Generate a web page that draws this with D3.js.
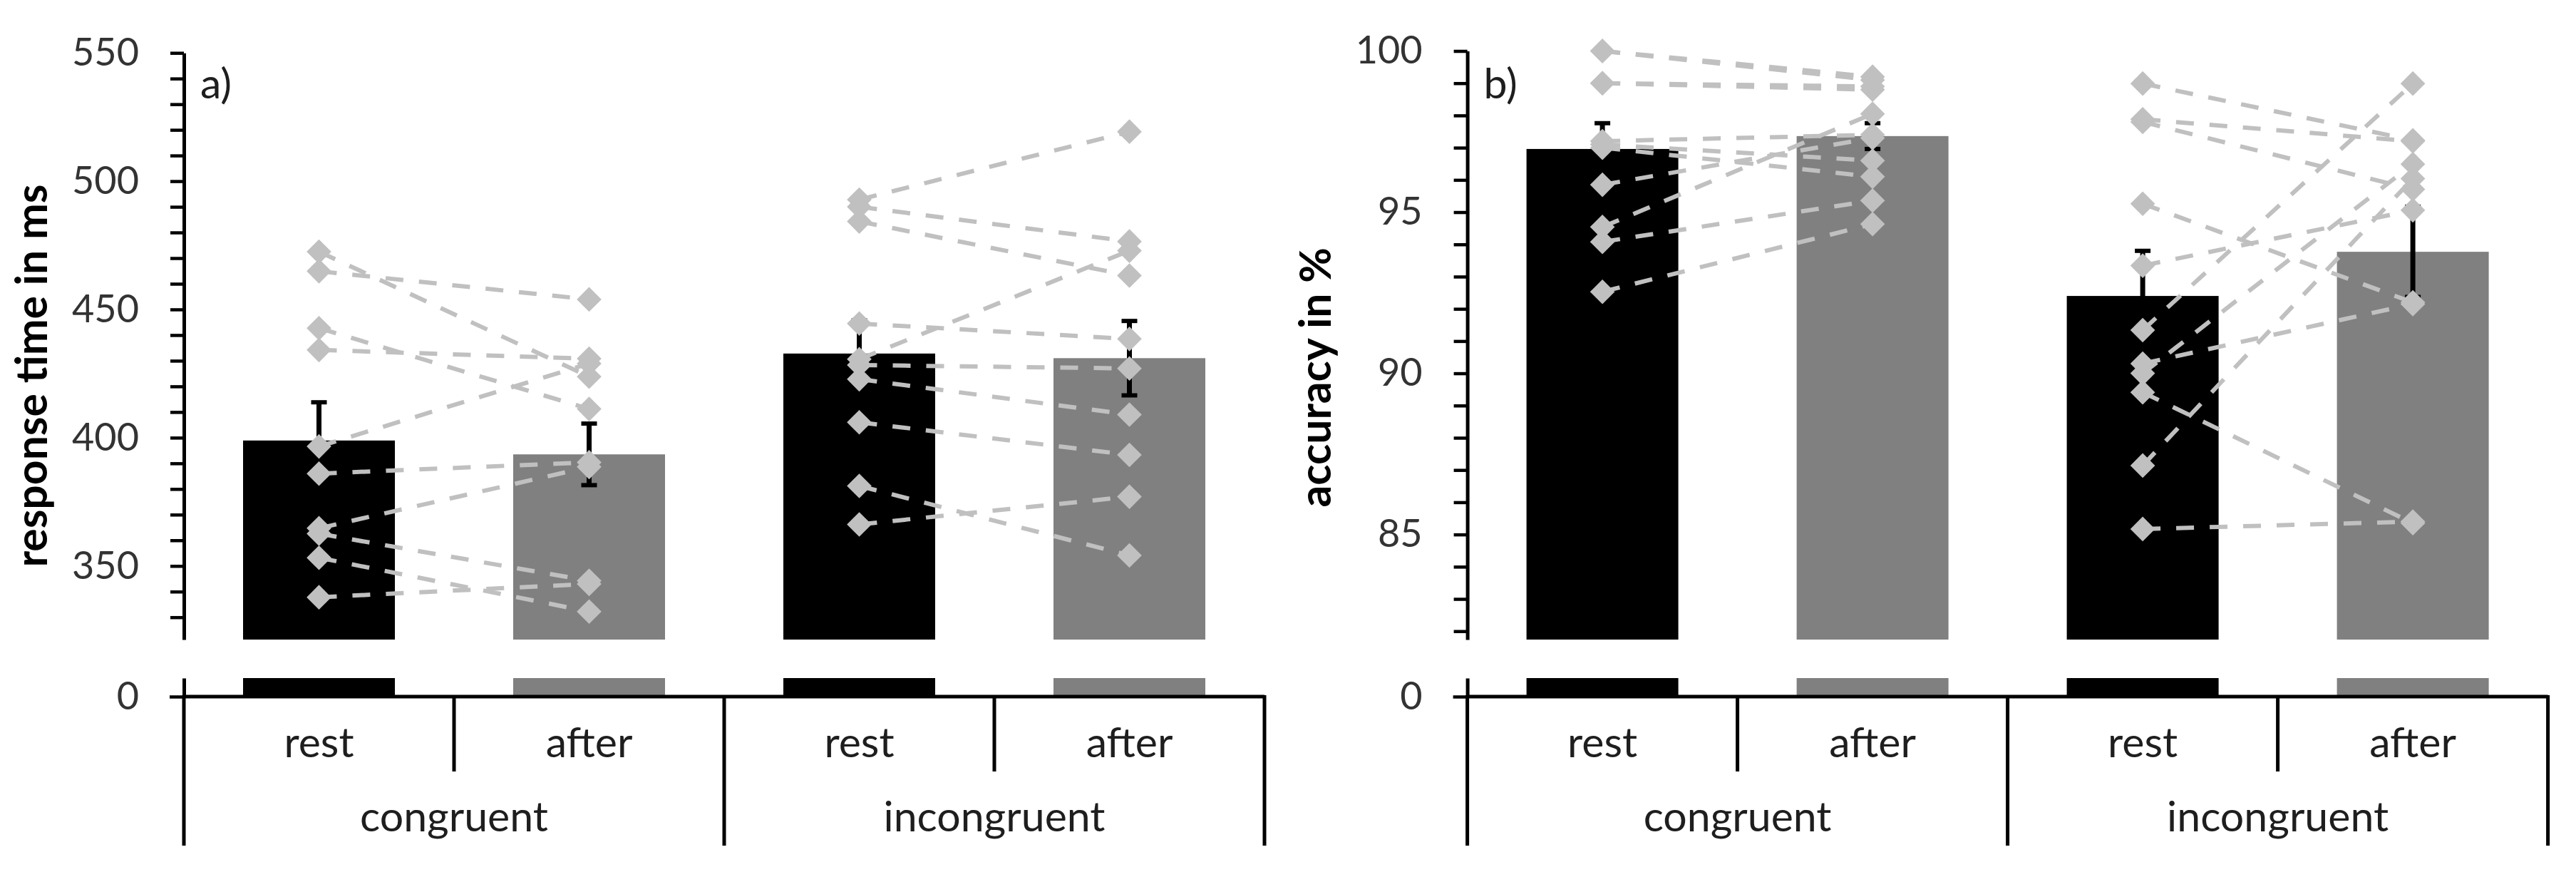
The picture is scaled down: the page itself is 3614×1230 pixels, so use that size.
<!DOCTYPE html>
<html lang="en">
<head>
<meta charset="utf-8">
<title>Response time and accuracy: rest vs after</title>
<style>
  body { margin:0; background:#fff; }
  svg  { display:block; }
  text { font-family: Lato, "Open Sans", sans-serif; }
</style>
</head>
<body>
<script src="https://d3js.org/d3.v7.min.js"></script>
<script>

// ---- data ----
const groups = ["congruent", "incongruent"];
const conditions = ["rest", "after"];

// a) response time (ms): bar means + error, order: cong rest, cong after, incong rest, incong after
const rtMean  = [398.9, 393.5, 432.8, 431.0];
const rtError = [14.9, 12.0, 12.9, 14.5];
// single participants (rest[i] is joined to after[i])
const rtCongruentRest    = [472.5, 464.9, 442.7, 434.2, 396.6, 386.0, 364.7, 362.6, 353.2, 337.8];
const rtCongruentAfter   = [423.8, 453.9, 411.2, 430.8, 428.9, 390.4, 388.6, 344.2, 332.2, 343.0];
const rtIncongruentRest  = [492.8, 490.0, 484.3, 444.5, 430.6, 428.3, 422.8, 406.0, 381.2, 366.2];
const rtIncongruentAfter = [519.3, 476.5, 463.2, 438.5, 472.9, 427.0, 409.0, 393.3, 354.1, 377.0];

// b) accuracy (%)
const accMean  = [96.96, 97.36, 92.40, 93.77];
const accError = [0.8, 0.4, 1.4, 1.4];
const accCongruentRest    = [100, 100, 99.0, 99.0, 97.2, 97.1, 97.0, 95.85, 94.54, 94.08, 92.53];
const accCongruentAfter   = [99.2, 99.1, 98.9, 98.8, 97.4, 96.6, 96.1, 97.3, 98.05, 95.36, 94.63];
const accIncongruentRest  = [98.99, 97.88, 97.8, 95.26, 93.34, 91.34, 90.3, 90.0, 89.41, 87.14, 85.17];
const accIncongruentAfter = [97.23, 97.2, 95.71, 92.2, 95.06, 98.99, 92.15, 96.49, 85.35, 96.04, 85.4];

// axis ticks
const rtTicks   = d3.range(330, 551, 10);
const rtLabels  = [350, 400, 450, 500, 550];
const accTicks  = d3.range(82, 101, 1);
const accLabels = [85, 90, 95, 100];

// ---- layout ----
const width = 3614, height = 1230;
const plotBottom = 897;   // lower end of the broken upper axis
const stubTop = 951;      // top of the short lower axis part
const zeroY = 977;        // category axis
const step = 379;
const barColor = ["#000000", "#808080"];
const pointColor = "#c0c0c0";

const svg = d3.select("body").append("svg")
  .attr("width", width)
  .attr("height", height)
  .attr("viewBox", [0, 0, width, height]);

svg.append("rect").attr("width", width).attr("height", height).attr("fill", "#fff");

const keys = [];
groups.forEach(g => conditions.forEach(c => keys.push(g + "|" + c)));

function drawPanel(p) {
  const g = svg.append("g");

  const x = d3.scaleBand()
    .domain(keys)
    .range([p.axisX, p.axisX + step * keys.length])
    .paddingInner(0.438)
    .paddingOuter(0.219);
  const cx = k => x(k) + x.bandwidth() / 2;

  const y = d3.scaleLinear().domain(p.domain).range([plotBottom, p.topY]).clamp(true);
  const yLow = d3.scaleLinear().domain([0, 1]).range([zeroY, stubTop]).clamp(true);

  // bars (upper part and the stub under the break)
  g.append("g").selectAll("rect")
    .data(p.means)
    .join("rect")
      .attr("x", (d, i) => x(keys[i]))
      .attr("width", x.bandwidth())
      .attr("y", d => y(d))
      .attr("height", d => y(p.domain[0]) - y(d))
      .attr("fill", (d, i) => barColor[i % 2]);

  g.append("g").selectAll("rect")
    .data(p.means)
    .join("rect")
      .attr("x", (d, i) => x(keys[i]))
      .attr("width", x.bandwidth())
      .attr("y", d => yLow(d))
      .attr("height", d => yLow(0) - yLow(d))
      .attr("fill", (d, i) => barColor[i % 2]);

  // error bars
  const eb = g.append("g").attr("stroke", "#000");
  p.means.forEach((m, i) => {
    const xc = cx(keys[i]);
    eb.append("line").attr("x1", xc).attr("x2", xc).attr("stroke-width", 7)
      .attr("y1", y(m - p.errors[i])).attr("y2", y(m + p.errors[i]));
    [m - p.errors[i], m + p.errors[i]].forEach(v => {
      eb.append("line").attr("x1", xc - 11).attr("x2", xc + 11).attr("stroke-width", 6)
        .attr("y1", y(v)).attr("y2", y(v));
    });
  });

  // single participant lines
  const line = d3.line().x(d => cx(d[0])).y(d => y(d[1]));
  const pairs = [];
  p.participants.forEach((set, gi) => {
    set.rest.forEach((r, i) => pairs.push([[groups[gi] + "|rest", r], [groups[gi] + "|after", set.after[i]]]));
  });

  g.append("g").selectAll("path")
    .data(pairs)
    .join("path")
      .attr("d", line)
      .attr("fill", "none")
      .attr("stroke", pointColor)
      .attr("stroke-width", 6)
      .attr("stroke-dasharray", "25 22");

  const diamond = d3.symbol(d3.symbolSquare, 600);
  g.append("g").selectAll("path")
    .data(pairs.flat())
    .join("path")
      .attr("d", diamond)
      .attr("transform", d => `translate(${cx(d[0])},${y(d[1])}) rotate(45)`)
      .attr("fill", pointColor);

  // y axis (upper part)
  const axis = g.append("g")
    .attr("transform", `translate(${p.axisX},0)`)
    .call(d3.axisLeft(y)
      .tickValues(p.ticks)
      .tickFormat(d => p.labels.includes(d) ? d : "")
      .tickSize(19)
      .tickPadding(44)
      .tickSizeOuter(0));

  // y axis (lower part under the break)
  const axisLow = g.append("g")
    .attr("transform", `translate(${p.axisX},0)`)
    .call(d3.axisLeft(yLow)
      .tickValues([0])
      .tickFormat(d3.format("d"))
      .tickSize(20)
      .tickPadding(43)
      .tickSizeOuter(0));

  [axis, axisLow].forEach(a => {
    a.select(".domain").attr("stroke", "#000").attr("stroke-width", 5);
    a.selectAll(".tick line").attr("stroke", "#000").attr("stroke-width", 4.5);
    a.selectAll(".tick text")
      .attr("fill", "#333")
      .style("font-size", "54px")
      .style("font-family", "Lato, 'Open Sans', sans-serif");
  });

  // category axis
  const r0 = x.range()[0], r1 = x.range()[1];
  const cat = g.append("g").attr("stroke", "#000").attr("stroke-width", 5);
  cat.append("line").attr("x1", r0).attr("x2", r1).attr("y1", zeroY).attr("y2", zeroY);
  d3.range(keys.length + 1).forEach(i => {
    const xs = r0 + i * x.step();
    cat.append("line")
      .attr("x1", xs).attr("x2", xs)
      .attr("y1", zeroY - 2)
      .attr("y2", i % 2 === 0 ? 1186 : 1082);
  });

  g.append("g").selectAll("text")
    .data(keys)
    .join("text")
      .attr("x", d => cx(d))
      .attr("y", 1062)
      .attr("text-anchor", "middle")
      .attr("fill", "#1e1e1e")
      .style("font-size", "59px")
      .text(d => d.split("|")[1]);

  g.append("g").selectAll("text")
    .data(groups)
    .join("text")
      .attr("x", (d, i) => r0 + (2 * i + 1) * x.step())
      .attr("y", 1166)
      .attr("text-anchor", "middle")
      .attr("fill", "#1e1e1e")
      .style("font-size", "59px")
      .text(d => d);

  // panel letter
  g.append("text")
    .attr("x", p.axisX + 23)
    .attr("y", 138)
    .attr("fill", "#1e1e1e")
    .style("font-size", "59px")
    .text(p.letter);

  // axis title
  return g.append("text")
    .attr("transform", `translate(${p.axisX - 192},${p.titleY}) rotate(-90)`)
    .attr("text-anchor", p.titleAnchor)
    .attr("fill", "#000")
    .style("font-weight", "bold")
    .style("font-size", "60px")
    .text(p.title);
}

const titleA = drawPanel({
  axisX: 258, topY: 74.2, domain: [321.3, 550],
  ticks: rtTicks, labels: rtLabels,
  means: rtMean, errors: rtError,
  participants: [
    { rest: rtCongruentRest, after: rtCongruentAfter },
    { rest: rtIncongruentRest, after: rtIncongruentAfter }
  ],
  letter: "a)", title: "response time in ms", titleY: 527, titleAnchor: "middle"
});

const titleB = drawPanel({
  axisX: 2058.6, topY: 71.5, domain: [81.74, 100],
  ticks: accTicks, labels: accLabels,
  means: accMean, errors: accError,
  participants: [
    { rest: accCongruentRest, after: accCongruentAfter },
    { rest: accIncongruentRest, after: accIncongruentAfter }
  ],
  letter: "b)", title: "accuracy in %", titleY: 347, titleAnchor: "end"
});

// size both titles so the left one spans the measured length
const fit = 60 * 537 / titleA.node().getComputedTextLength();
titleA.style("font-size", fit + "px");
titleB.style("font-size", fit + "px");

</script>
</body>
</html>
